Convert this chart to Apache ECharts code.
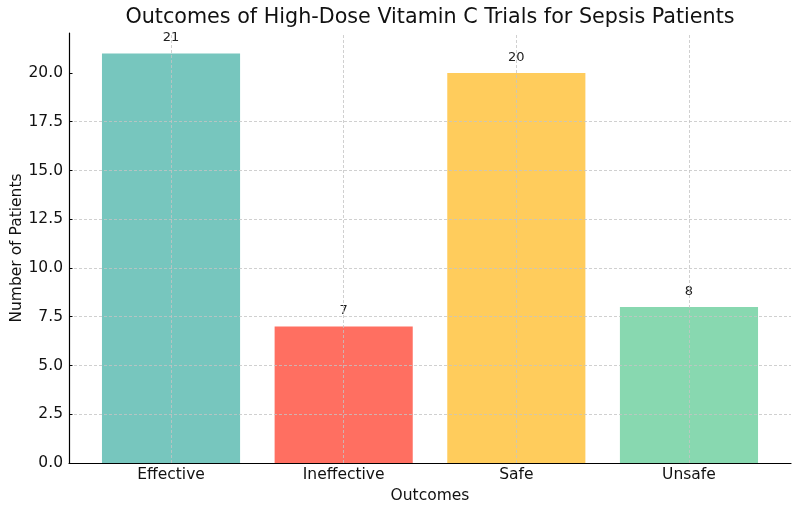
<!DOCTYPE html>
<html>
<head>
<meta charset="utf-8">
<script src="https://cdn.jsdelivr.net/npm/echarts@6/dist/echarts.min.js"></script>
<style>html,body{margin:0;padding:0;background:#fff}#c{width:800px;height:513px}</style>
</head>
<body>
<div id="c"></div>
<script>
const categories = ['Effective', 'Ineffective', 'Safe', 'Unsafe'];
const values = [21, 7, 20, 8];
const barColors = ['#77C6BE', '#FF6F61', '#FFCC5C', '#88D8B0'];
const yTicks = [0, 2.5, 5, 7.5, 10, 12.5, 15, 17.5, 20];
const yMax = 22.05;

const font = 'DejaVu Sans';
const chart = echarts.init(document.getElementById('c'), null, {renderer: 'canvas'});
const grid = [
  {left: 69, right: 9, top: 33, bottom: 50, outerBoundsMode: 'none', containLabel: false},
  {left: 84.7, right: 24.7, top: 33, bottom: 50, outerBoundsMode: 'none', containLabel: false}
];
chart.setOption({
  animation: false,
  backgroundColor: '#fff',
  title: {
    text: 'Outcomes of High-Dose Vitamin C Trials for Sepsis Patients',
    left: 430, top: 7, padding: 0, textAlign: 'center',
    textStyle: {fontFamily: font, fontSize: 20.7, fontWeight: 'normal', color: '#111'}
  },
  grid: grid,
  xAxis: [
    {gridIndex: 0, type: 'value', min: 0, max: 1, show: true,
     axisLine: {show: true, onZero: false, lineStyle: {color: '#000', width: 1.2}},
     axisTick: {show: false}, axisLabel: {show: false}, splitLine: {show: false}},
    {gridIndex: 1, type: 'category', data: categories, boundaryGap: true,
     axisLine: {show: false},
     axisTick: {show: true, alignWithLabel: true, inside: true, length: 3.5, lineStyle: {color: '#000', width: 1}},
     axisLabel: {fontFamily: font, fontSize: 15.5, color: '#111', margin: 4},
     splitLine: {show: false},
     name: 'Outcomes', nameLocation: 'middle', nameGap: 25, nameMoveOverlap: false,
     nameTextStyle: {fontFamily: font, fontSize: 15.5, color: '#111'}}
  ],
  yAxis: [
    {gridIndex: 0, type: 'value', min: 0, max: yMax, interval: 2.5, z: 5,
     axisLine: {show: true, lineStyle: {color: '#000', width: 1.2}},
     axisTick: {show: true, inside: true, length: 3.5, customValues: yTicks, lineStyle: {color: '#000', width: 1}},
     axisLabel: {fontFamily: font, fontSize: 15.5, color: '#111', margin: 6, customValues: yTicks,
                 formatter: v => v.toFixed(1)},
     splitLine: {show: true, showMaxLine: false, showMinLine: false,
                 lineStyle: {color: '#c4c4c4', type: [3, 2], width: 0.8}},
     name: 'Number of Patients', nameLocation: 'middle', nameGap: 44, nameMoveOverlap: false,
     nameTextStyle: {fontFamily: font, fontSize: 15.5, color: '#111'}},
    {gridIndex: 1, type: 'value', min: 0, max: yMax, show: false, splitLine: {show: false}}
  ],
  series: [{
    type: 'bar', xAxisIndex: 1, yAxisIndex: 1,
    barWidth: '80%',
    data: values.map((v, i) => ({value: v, itemStyle: {color: barColors[i]}})),
    label: {show: true, position: 'top', distance: 9, fontFamily: font, fontSize: 13, color: '#222'},
    markLine: {
      silent: true, symbol: 'none', label: {show: false},
      lineStyle: {color: '#c4c4c4', type: [3, 2], width: 0.8},
      data: categories.map(c => ({xAxis: c}))
    }
  }]
});
</script>
</body>
</html>
